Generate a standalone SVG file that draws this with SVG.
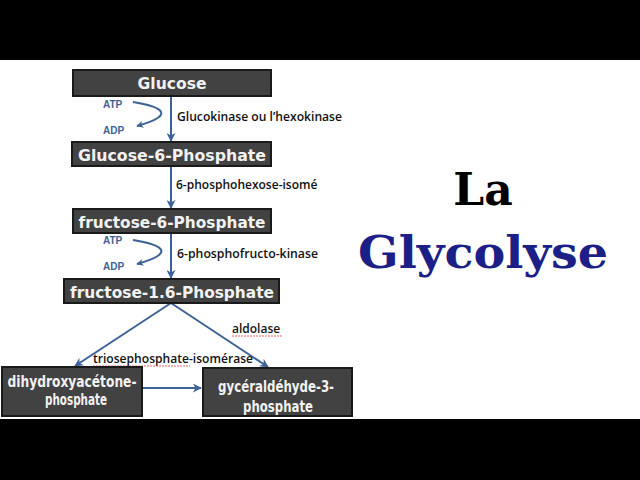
<svg xmlns="http://www.w3.org/2000/svg" width="640" height="480" viewBox="0 0 640 480">
<defs>
<style>
.box{fill:#424242;stroke:#1a1a1a;stroke-width:2}
.bt{fill:#f2f2f2;font-family:"DejaVu Sans",Verdana,sans-serif;font-weight:bold;text-anchor:middle}
.ln{fill:none;stroke:#3d6295;stroke-width:2}
.lb{fill:#111;font-family:"Open Sans","Liberation Sans",sans-serif;font-weight:600;font-size:12px}
.ap{fill:#3d6295;font-family:"Liberation Sans",Arial,sans-serif;font-weight:bold;font-size:10px}
.sq{fill:none;stroke:#e04040;stroke-width:0.8;stroke-dasharray:2 1}
</style>
<marker id="ah" viewBox="0 0 10 10" refX="9" refY="5" markerWidth="7" markerHeight="7" orient="auto" markerUnits="userSpaceOnUse">
<path d="M0,0 L10,5 L0,10 L3,5 z" fill="#3d6295"/>
</marker>
<marker id="ah2" viewBox="0 0 10 10" refX="9" refY="5" markerWidth="9" markerHeight="9" orient="auto" markerUnits="userSpaceOnUse">
<path d="M0,0 L10,5 L0,10 L3,5 z" fill="#3d6295"/>
</marker>
<clipPath id="clipIso"><rect x="170" y="170" width="152" height="30"/></clipPath>
</defs>
<rect x="0" y="0" width="640" height="480" fill="#ffffff"/>
<rect x="0" y="0" width="640" height="60" fill="#000"/>
<rect x="0" y="419" width="640" height="61" fill="#000"/>

<g id="connectors">
<line class="ln" x1="171" y1="96" x2="171" y2="141" marker-end="url(#ah2)"/>
<path class="ln" d="M133,102 C158,106 180,114 137,126" marker-end="url(#ah)"/>
<line class="ln" x1="171" y1="166" x2="171" y2="208" marker-end="url(#ah2)"/>
<line class="ln" x1="171" y1="233" x2="171" y2="278" marker-end="url(#ah2)"/>
<path class="ln" d="M133,240 C158,244 180,252 137,264" marker-end="url(#ah)"/>
<line class="ln" x1="171" y1="303" x2="75" y2="366" marker-end="url(#ah2)"/>
<line class="ln" x1="171" y1="303" x2="268" y2="367" marker-end="url(#ah2)"/>
<line class="ln" x1="142" y1="388" x2="201" y2="388" marker-end="url(#ah2)"/>
</g>

<g id="labels">
<text class="ap" x="103" y="108">ATP</text>
<text class="ap" x="103" y="134">ADP</text>
<text class="lb" x="177" y="121" textLength="165" lengthAdjust="spacingAndGlyphs">Glucokinase ou l’hexokinase</text>
<text class="lb" x="176" y="189" clip-path="url(#clipIso)">6-phosphohexose-isomé</text>
<text class="ap" x="103" y="244">ATP</text>
<text class="ap" x="103" y="270">ADP</text>
<text class="lb" x="177" y="258" textLength="141" lengthAdjust="spacingAndGlyphs">6-phosphofructo-kinase</text>
<text class="lb" x="232" y="333">aldolase</text>
<path class="sq" d="M232,336 L282,336"/>
<text class="lb" x="93" y="363" textLength="160" lengthAdjust="spacingAndGlyphs">triosephosphate-isomérase</text>
<path class="sq" d="M93,366 L190,366"/>
</g>

<g id="glucose">
<rect class="box" x="73" y="70" width="198" height="26"/>
<text class="bt" x="172" y="89" font-size="15" textLength="69" lengthAdjust="spacingAndGlyphs">Glucose</text>
</g>
<g id="g6p">
<rect class="box" x="72" y="142" width="199" height="24"/>
<text class="bt" x="172" y="161" font-size="16" textLength="188" lengthAdjust="spacingAndGlyphs">Glucose-6-Phosphate</text>
</g>
<g id="f6p">
<rect class="box" x="73" y="209" width="198" height="24"/>
<text class="bt" x="172" y="228" font-size="16" textLength="187" lengthAdjust="spacingAndGlyphs">fructose-6-Phosphate</text>
</g>
<g id="f16p">
<rect class="box" x="64" y="279" width="215" height="24"/>
<text class="bt" x="172" y="298" font-size="16" textLength="204" lengthAdjust="spacingAndGlyphs">fructose-1.6-Phosphate</text>
</g>
<g id="dhap">
<rect class="box" x="2" y="367" width="140" height="49"/>
<text class="bt" x="72" y="387" font-size="15" textLength="129" lengthAdjust="spacingAndGlyphs">dihydroxyacétone-</text>
<text class="bt" x="76" y="405" font-size="15" textLength="62" lengthAdjust="spacingAndGlyphs">phosphate</text>
</g>
<g id="g3p">
<rect class="box" x="203" y="368" width="149" height="48"/>
<text class="bt" x="276" y="392" font-size="15" textLength="116" lengthAdjust="spacingAndGlyphs">gycéraldéhyde-3-</text>
<text class="bt" x="278" y="412" font-size="15" textLength="70" lengthAdjust="spacingAndGlyphs">phosphate</text>
</g>

<g id="title">
<text x="483" y="205" text-anchor="middle" font-family="'DejaVu Serif',serif" font-weight="bold" font-size="44" fill="#000">La</text>
<text x="483" y="268" text-anchor="middle" font-family="'DejaVu Serif',serif" font-weight="bold" font-size="44" fill="#1c1f86" textLength="250" lengthAdjust="spacingAndGlyphs">Glycolyse</text>
</g>
</svg>
